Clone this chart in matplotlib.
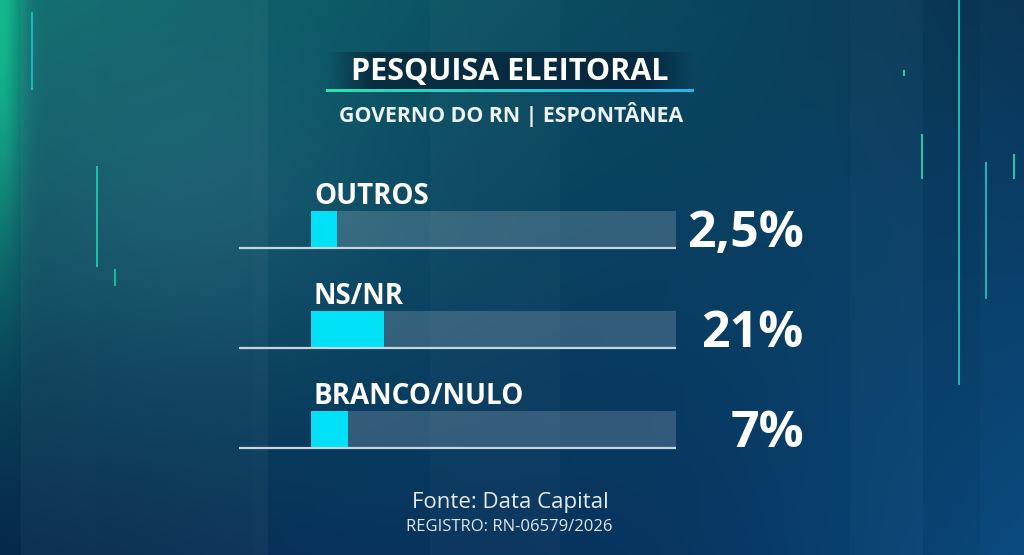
import numpy as np
import matplotlib
matplotlib.use("Agg")
import matplotlib.pyplot as plt
from matplotlib.colors import to_rgb

# --- data ---
categories = ["OUTROS", "NS/NR", "BRANCO/NULO"]
values = [2.5, 21, 7]
value_labels = ["2,5%", "21%", "7%"]
title = "PESQUISA ELEITORAL"
subtitle = "GOVERNO DO RN | ESPONTÂNEA"
source = "Fonte: Data Capital"
registry = "REGISTRO: RN-06579/2026"

# broadcast bars keep a small visible stub before the value starts
BAR_STUB = 7.6
X_MAX = 135.8

W, H = 1024, 555
plt.rcParams['font.family'] = ['Open Sans', 'DejaVu Sans']

fig = plt.figure(figsize=(W / 100, H / 100), dpi=100)

# ---------- background ----------
bg = fig.add_axes([0, 0, 1, 1])
bg.set_xlim(0, W)
bg.set_ylim(H, 0)
bg.axis('off')

xx, yy = np.meshgrid(np.linspace(0, 1, W), np.linspace(0, 1, H))
tl = np.array(to_rgb('#0b6a6c'))
tr = np.array(to_rgb('#0a3556'))
bl = np.array(to_rgb('#06284a'))
br = np.array(to_rgb('#0b4c82'))
img = ((1 - xx)[..., None] * (1 - yy)[..., None] * tl
       + xx[..., None] * (1 - yy)[..., None] * tr
       + (1 - xx)[..., None] * yy[..., None] * bl
       + xx[..., None] * yy[..., None] * br)
# darker navy band through the middle-bottom
mid = np.exp(-((xx - 0.62) / 0.25) ** 2) * yy
img = img * (1 - 0.35 * mid[..., None]) + 0.35 * mid[..., None] * np.array(to_rgb('#062448'))
# green glow at the top-left edge
glow = np.exp(-(xx * W / 22) ** 2) * np.exp(-(yy / 0.4) ** 2)
img = img * (1 - glow[..., None]) + glow[..., None] * np.array(to_rgb('#12b88c'))
# soft light cloud upper-left
cloud = np.exp(-(((xx - 0.2) / 0.18) ** 2 + ((yy - 0.35) / 0.3) ** 2))
img = img + 0.05 * cloud[..., None]
bg.imshow(np.clip(img, 0, 1), extent=(0, W, H, 0), aspect='auto', zorder=0)

# translucent vertical panels
panels = [(21, 97, 0.035), (97, 253, 0.03), (253, 268, 0.04), (430, 560, 0.025),
          (850, 923, 0.02), (923, 980, -0.05)]
for x0, x1, a in panels:
    col = 'white' if a > 0 else '#001020'
    bg.axvspan(x0, x1, color=col, alpha=abs(a), lw=0, zorder=1)

# decorative thin lines
deco = [(32, 12, 90, '#1fb8c0'), (97, 166, 267, '#22c0a8'), (115, 269, 286, '#22b8a0'),
        (904, 70, 76, '#28c8a8'), (922, 134, 179, '#28c8a8'), (959, 0, 385, '#22b8b0'),
        (986, 162, 299, '#22b8b0'), (1014, 154, 179, '#28c8a8')]
for x, y0, y1, c in deco:
    bg.plot([x, x], [y0, y1], color=c, lw=1.4, solid_capstyle='butt', zorder=2)

# title band
band = np.linspace(0, 1, 200)
band_alpha = np.clip(np.minimum(band, 1 - band) * 8, 0, 1) * 0.65
band_img = np.zeros((1, 200, 4))
band_img[..., :3] = to_rgb('#04182e')
band_img[0, :, 3] = band_alpha
bg.imshow(band_img, extent=(326, 694, 90, 52), aspect='auto', zorder=3)
ul = np.zeros((1, 200, 3))
c0, c1 = np.array(to_rgb('#2ae2b0')), np.array(to_rgb('#22b6ee'))
ul[0] = (1 - band[:, None]) * c0 + band[:, None] * c1
bg.imshow(ul, extent=(326, 694, 92.5, 89.5), aspect='auto', zorder=4)

bg.text(510, 80, title, color='white', fontsize=22, fontweight='bold',
        ha='center', va='baseline', zorder=5)
bg.text(511, 122, subtitle, color='#eef3f6', fontsize=15.3, fontweight='bold',
        ha='center', va='baseline', zorder=5)
bg.text(510, 508, source, color='#e4ebf0', fontsize=16, ha='center', va='baseline', zorder=5)
bg.text(509, 531, registry, color='#dfe6ec', fontsize=12, ha='center', va='baseline', zorder=5)

# ---------- bars ----------
ax_left, ax_w = 311 / W, 365 / W
ax_top, ax_h = 179.5, 300
ax = fig.add_axes([ax_left, 1 - (ax_top + ax_h) / H, ax_w, ax_h / H])
ax.set_facecolor('none')
ax.set_xlim(-BAR_STUB, X_MAX)
ax.set_ylim(len(categories) - 0.5, -0.5)
ax.axis('off')

ypos = np.arange(len(categories))
bar_h = 0.375
ax.barh(ypos, X_MAX + BAR_STUB, left=-BAR_STUB, height=bar_h,
        color='white', alpha=0.17, lw=0)
ax.barh(ypos, np.array(values) + BAR_STUB, left=-BAR_STUB, height=bar_h,
        color='#00e1f7', lw=0)
ax.hlines(ypos + bar_h / 2, -0.197, 1.0, transform=ax.get_yaxis_transform(),
          color='#c6d4de', lw=1.6, clip_on=False)

for i, (cat, lab) in enumerate(zip(categories, value_labels)):
    ax.text(0.008, i - bar_h / 2 - 0.07, cat, transform=ax.get_yaxis_transform(),
            color='white', fontsize=20, fontweight='bold', ha='left', va='baseline')
    ax.text(1.35, i + bar_h / 2 - 0.01, lab, transform=ax.get_yaxis_transform(),
            color='white', fontsize=36, fontweight='bold', ha='right', va='baseline',
            clip_on=False)

fig.savefig('out.png', dpi=100)
